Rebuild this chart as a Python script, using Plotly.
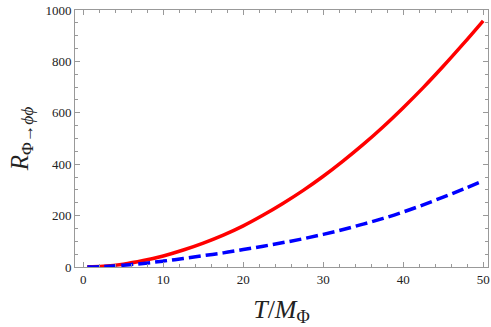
import plotly.graph_objects as go

x_vals = [0.5, 2.5, 5, 7.5, 10, 12.5, 15, 17.5, 20, 22.5, 25, 27.5, 30, 32.5, 35, 37.5, 40, 42.5, 45, 47.5, 50]
red_vals = [0.5, 3, 11, 25, 43, 66, 93, 124, 160, 202, 248, 298, 353, 413, 477, 546, 620, 698, 781, 868, 958]
blue_vals = [0, 2, 7, 14, 23, 33, 44, 55, 68, 81, 95, 110, 127, 146, 167, 189, 214, 242, 272, 303, 335]

x_ticks = [0, 10, 20, 30, 40, 50]
y_ticks = [0, 200, 400, 600, 800, 1000]

SERIF = "Liberation Serif"

fig = go.Figure()
fig.add_trace(go.Scatter(x=x_vals, y=red_vals, mode="lines",
                         line=dict(color="#FF0000", width=3.5, shape="spline"), showlegend=False))
fig.add_trace(go.Scatter(x=x_vals, y=blue_vals, mode="lines",
                         line=dict(color="#0000FF", width=3.5, dash="12px,5px", shape="spline"), showlegend=False))

axis_common = dict(
    showline=True, linecolor="#999999", linewidth=1, mirror="ticks",
    ticks="inside", tickcolor="#999999", ticklen=5, showgrid=False, zeroline=False,
    automargin=False,
    tickfont=dict(family=SERIF, size=13, color="#222222"),
)
fig.update_xaxes(range=[-1.04, 50.6], tickvals=x_ticks,
                 minor=dict(dtick=2, tick0=0, ticks="inside", ticklen=3, tickcolor="#999999"),
                 title=dict(text="<i>T</i>/<i>M</i><sub>Φ</sub>",
                            font=dict(family=SERIF, size=26, color="#222222"), standoff=14),
                 **axis_common)
fig.update_yaxes(range=[0, 1000], tickvals=y_ticks,
                 minor=dict(dtick=50, tick0=0, ticks="inside", ticklen=3, tickcolor="#999999"),
                 title=dict(text="<i>R</i><sub>Φ→<i>ϕϕ</i></sub>",
                            font=dict(family=SERIF, size=25, color="#222222"), standoff=9),
                 **axis_common)
fig.update_layout(width=491, height=327, margin=dict(l=75, r=3, t=10, b=60),
                  plot_bgcolor="white", paper_bgcolor="white")
fig.write_html("out.html", config={"displayModeBar": False},
               post_script="document.body.style.margin='0px';document.body.style.overflow='hidden';")
